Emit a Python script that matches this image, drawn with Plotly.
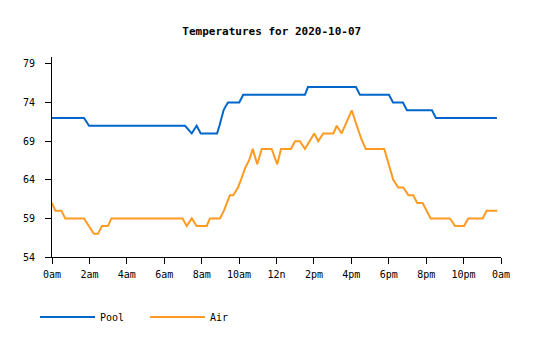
import plotly.graph_objects as go

# Times in decimal hours since midnight
pool_hours = [0.0, 1.71, 1.98, 7.11, 7.47, 7.73, 7.95, 8.82, 8.95, 9.06, 9.17, 9.30, 9.41,
              10.01, 10.22, 13.52, 13.68, 16.25, 16.46, 18.01, 18.23, 18.76, 18.97,
              20.31, 20.52, 23.78]
pool_temps = [72, 72, 71, 71, 70, 71, 70, 70, 71, 72, 73, 73.6, 74,
              74, 75, 75, 76, 76, 75, 75, 74, 74, 73,
              73, 72, 72]

air_hours = [0.0, 0.18, 0.50, 0.71, 1.71, 2.24, 2.46, 2.67, 2.99, 3.17, 6.98, 7.20, 7.47,
             7.73, 8.27, 8.44, 8.98, 9.19, 9.35, 9.51, 9.69, 9.94, 10.10, 10.32, 10.55,
             10.73, 10.97, 11.21, 11.74, 12.04, 12.24, 12.77, 12.99, 13.25, 13.52, 14.02,
             14.23, 14.50, 15.04, 15.22, 15.48, 16.02, 16.28, 16.52, 16.77, 17.76, 18.24,
             18.51, 18.78, 19.05, 19.31, 19.52, 19.81, 20.24, 21.27, 21.54, 22.02, 22.25,
             23.02, 23.23, 23.80]
air_temps = [61, 60, 60, 59, 59, 57, 57, 58, 58, 59, 59, 58, 59,
             58, 58, 59, 59, 60, 61, 62, 62, 63, 64, 65.5, 66.6,
             68, 66, 68, 68, 66, 68, 68, 69, 69, 68, 70,
             69, 70, 70, 71, 70, 73, 71.1, 69.4, 68, 68, 64,
             63, 63, 62, 62, 61, 61, 59, 59, 58, 58, 59,
             59, 60, 60]

tick_vals = [0, 2, 4, 6, 8, 10, 12, 14, 16, 18, 20, 22, 24]
tick_text = ["0am", "2am", "4am", "6am", "8am", "10am", "12n", "2pm", "4pm",
             "6pm", "8pm", "10pm", "0am"]
y_ticks = [54, 59, 64, 69, 74, 79]

title_text = "Temperatures for 2020-10-07"

FONT = "DejaVu Sans Mono, Liberation Mono, monospace"

fig = go.Figure()
fig.add_trace(go.Scatter(x=pool_hours, y=pool_temps, mode="lines", name="Pool",
                         line=dict(color="#0066CC", width=2)))
fig.add_trace(go.Scatter(x=air_hours, y=air_temps, mode="lines", name="Air",
                         line=dict(color="#FF9A22", width=2)))

fig.update_layout(
    width=535, height=340,
    margin=dict(l=52, r=34, t=57, b=83),
    paper_bgcolor="white", plot_bgcolor="white",
    font=dict(family=FONT, size=10, color="black"),
    title=dict(text="<b>" + title_text + "</b>", x=0.508, xanchor="center",
               y=1 - 31 / 340, yanchor="middle", yref="container",
               font=dict(family=FONT, size=11, color="black")),
    showlegend=True,
    legend=dict(orientation="h", x=35 / 535, xref="container", xanchor="left",
                y=1 - 317 / 340, yref="container", yanchor="middle",
                font=dict(family=FONT, size=10), entrywidth=40, entrywidthmode="pixels",
                itemwidth=55),
    xaxis=dict(range=[0, 24], tickvals=tick_vals, ticktext=tick_text,
               showgrid=False, zeroline=False, showline=True, linecolor="black",
               linewidth=1, ticks="outside", ticklen=6, tickcolor="black",
               ticklabelstandoff=2,
               tickfont=dict(family=FONT, size=10), fixedrange=True),
    yaxis=dict(range=[54, 79.9], tickvals=y_ticks,
               showgrid=False, zeroline=False, showline=True, linecolor="black",
               linewidth=1, ticks="outside", ticklen=6, tickcolor="black",
               ticklabelstandoff=8,
               tickfont=dict(family=FONT, size=10), fixedrange=True),
)

fig.write_html("out.html", config={"displayModeBar": False})
